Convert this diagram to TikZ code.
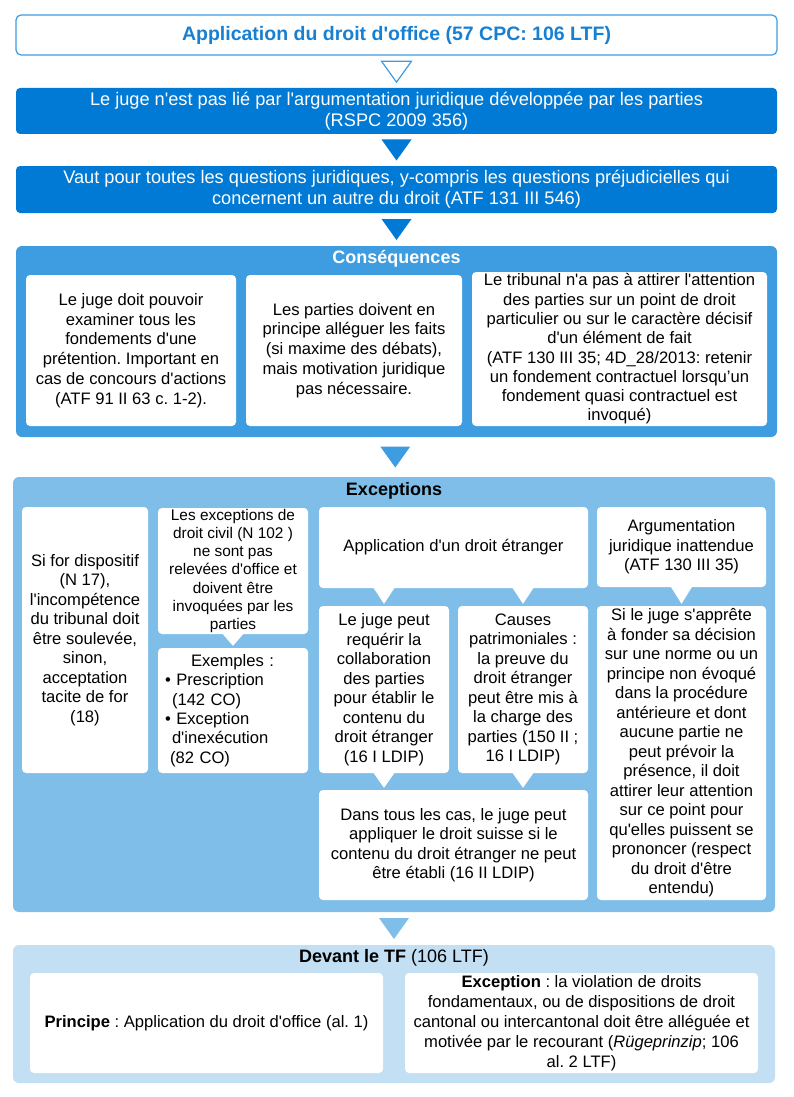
\documentclass[tikz,border=0pt]{standalone}
\usepackage{fontspec}
\defaultfontfeatures[\rmfamily]{}
\setmainfont{Liberation Sans}
\usetikzlibrary{calc}
\frenchspacing

\definecolor{deepblue}{RGB}{0,122,212}
\definecolor{midblue}{RGB}{62,156,224}
\definecolor{paleblue}{RGB}{128,190,234}
\definecolor{mistblue}{RGB}{194,223,243}
\definecolor{titleblue}{RGB}{24,128,210}

\newcommand{\flowtip}[3][fill=deepblue]{%
  \path[#1] ($(#2.south)!.5!(#3.north)+(-15,-10.5)$) -- ++(30,0)
    -- ($(#2.south)!.5!(#3.north)+(0,10.5)$) -- cycle;}
\newcommand{\pointer}[2]{%
  \fill[white] ($(#1)+(-11,-1)$) -- ($(#1)+(11,-1)$) -- ($(#2)+(0,-2)$) -- cycle;}

\begin{document}
\begin{tikzpicture}[x=1pt,y=-1pt,
    boxsize/.style 2 args={minimum width=#1,minimum height=#2},
    card/.style={fill=white,rounded corners=4,align=center,inner sep=2pt},
    panel/.style={rounded corners=6,inner sep=0pt},
    headtext/.style={font=\bfseries\fontsize{18}{21}\selectfont}]

  \useasboundingbox (0,0) rectangle (793,1097);

  \node[card,draw=midblue,line width=1.2pt,rounded corners=5,boxsize={761}{40},
    text=titleblue,font=\bfseries\fontsize{19.5}{22}\selectfont] (app) at (396.5,35)
    {Application du droit d'office (57 CPC: 106 LTF)};

  \begin{scope}[every node/.style={card,fill=deepblue,text=white,font=\fontsize{18.2}{21}\selectfont}]
    \node[boxsize={761}{46},inner ysep=0pt] (juge) at (396.5,111)
      {Le juge n'est pas lié par l'argumentation juridique développée par les parties\\(RSPC 2009 356)};
    \node[boxsize={761}{47},inner ysep=0pt] (vaut) at (396.5,189.5)
      {Vaut pour toutes les questions juridiques, y-compris les questions préjudicielles qui\\concernent un autre du droit (ATF 131 III 546)};
  \end{scope}

  \node[panel,fill=midblue,boxsize={761}{191}] (cons) at (396.5,341.5) {};
  \node[headtext,text=white] (conshead) at (396.5,259) {Conséquences};
  \begin{scope}[every node/.style={card,font=\fontsize{16.6}{19.8}\selectfont}]
    \node[boxsize={210}{151}] (cons1) at (131,350.5)
      {Le juge doit pouvoir\\examiner tous les\\fondements d'une\\prétention. Important en\\cas de concours d'actions\\(ATF 91 II 63 c. 1-2).};
    \node[boxsize={216}{151}] (cons2) at (354,350.5)
      {Les parties doivent en\\principe alléguer les faits\\(si maxime des débats),\\mais motivation juridique\\pas nécessaire.};
    \node[boxsize={295}{154},inner ysep=0pt,font=\fontsize{16.6}{19.3}\selectfont] (cons3) at (619.5,349)
      {Le tribunal n'a pas à attirer l'attention\\des parties sur un point de droit\\particulier ou sur le caractère décisif\\d'un élément de fait\\(ATF 130 III 35; 4D\_28/2013: retenir\\un fondement contractuel lorsqu’un\\fondement quasi contractuel est\\invoqué)};
  \end{scope}

  \node[panel,fill=paleblue,boxsize={762}{435}] (exc) at (394,694.5) {};
  \node[headtext] (exchead) at (394,491) {Exceptions};
  \begin{scope}[every node/.style={card,font=\fontsize{16.6}{19.5}\selectfont}]
    \node[boxsize={126}{266}] (exc1) at (85,640)
      {Si for dispositif\\(N 17),\\l'incompétence\\du tribunal doit\\être soulevée,\\sinon,\\acceptation\\tacite de for\\(18)};
    \node[boxsize={150}{126},inner ysep=0pt,font=\fontsize{15.4}{18.3}\selectfont] (exc2) at (233,571)
      {Les exceptions de\\droit civil (N 102 )\\ne sont pas\\relevées d'office et\\doivent être\\invoquées par les\\parties};
    \node[boxsize={150}{125},align=left,text width=136pt,font=\fontsize{16.6}{19.3}\selectfont] (exc3) at (233,710.5)
      {\hspace*{26pt}Exemples :\\• Prescription\\\hspace*{7pt}(142 CO)\\• Exception\\\hspace*{7pt}d'inexécution\\\hspace*{5pt}(82 CO)};
    \node[boxsize={269}{81}] (exc4) at (453.5,547.5) {Application d'un droit étranger};
    \node[boxsize={130}{167}] (exc5) at (384,689.5)
      {Le juge peut\\requérir la\\collaboration\\des parties\\pour établir le\\contenu du\\droit étranger\\(16 I LDIP)};
    \node[boxsize={130}{167}] (exc6) at (523,689.5)
      {Causes\\patrimoniales :\\la preuve du\\droit étranger\\peut être mis à\\la charge des\\parties (150 II ;\\16 I LDIP)};
    \node[boxsize={269}{110}] (exc7) at (453.5,845)
      {Dans tous les cas, le juge peut\\appliquer le droit suisse si le\\contenu du droit étranger ne peut\\être établi (16 II LDIP)};
    \node[boxsize={169}{80}] (exc8) at (681.5,547)
      {Argumentation\\juridique inattendue\\(ATF 130 III 35)};
    \node[boxsize={169}{294},inner ysep=0pt] (exc9) at (681.5,753)
      {Si le juge s'apprête\\à fonder sa décision\\sur une norme ou un\\principe non évoqué\\dans la procédure\\antérieure et dont\\aucune partie ne\\peut prévoir la\\présence, il doit\\attirer leur attention\\sur ce point pour\\qu'elles puissent se\\prononcer (respect\\du droit d'être\\entendu)};
  \end{scope}

  \pointer{exc2.south}{exc3.north}
  \pointer{exc4.south -| exc5.north}{exc5.north}
  \pointer{exc4.south -| exc6.north}{exc6.north}
  \pointer{exc5.south}{exc7.north -| exc5.south}
  \pointer{exc6.south}{exc7.north -| exc6.south}
  \pointer{exc8.south}{exc9.north}

  \node[panel,fill=mistblue,boxsize={762}{138}] (tf) at (394,1014) {};
  \node[font=\fontsize{18}{21}\selectfont] (tfhead) at (394,958) {\textbf{Devant le TF} (106 LTF)};
  \begin{scope}[every node/.style={card,font=\fontsize{16.6}{20}\selectfont}]
    \node[boxsize={353}{100}] (tf1) at (206.5,1023)
      {\textbf{Principe} : Application du droit d'office (al. 1)};
    \node[boxsize={353}{100}] (tf2) at (581.5,1023)
      {\textbf{Exception} : la violation de droits\\fondamentaux, ou de dispositions de droit\\cantonal ou intercantonal doit être alléguée et\\motivée par le recourant (\textit{Rügeprinzip}; 106\\al. 2 LTF)};
  \end{scope}

  \flowtip[draw=midblue,fill=white,line width=1.2pt]{app}{juge}
  \flowtip{juge}{vaut}
  \flowtip{vaut}{cons}
  \flowtip[fill=midblue]{cons}{exc}
  \flowtip[fill=paleblue]{exc}{tf}

\end{tikzpicture}
\end{document}
